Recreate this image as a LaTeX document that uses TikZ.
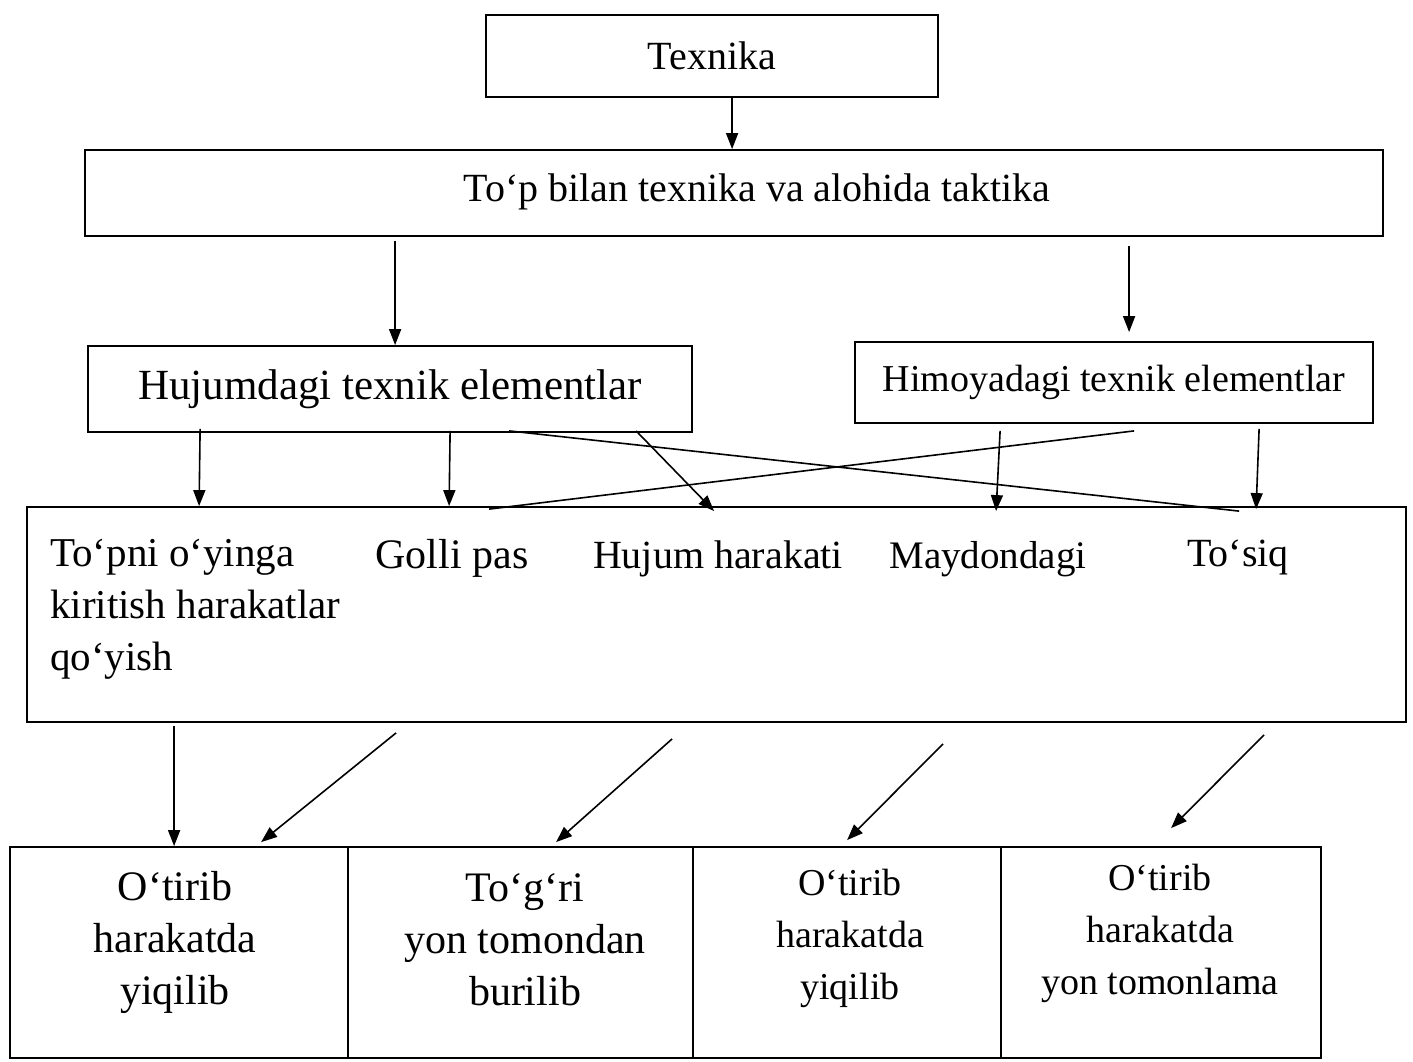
\documentclass[tikz,border=0pt]{standalone}
\usepackage{fontspec}
\setmainfont{Liberation Serif}
\usetikzlibrary{arrows.meta,calc}
\begin{document}
\begin{tikzpicture}[x=1pt,y=-1pt,
  box/.style={draw,line width=1.8pt,inner sep=0pt,align=center},
  conn/.style={line width=1.6pt,-{Triangle[length=16pt,width=12pt]}},
  plain/.style={line width=1.6pt},
  fs/.style={font=\fontsize{#1}{52}\selectfont},
  lbl/.style={inner sep=0pt,align=center}]
\useasboundingbox (0,0) rectangle (1413,1062);
% boxes
\node[box,fs=40,minimum width=452pt,minimum height=82pt] (tex) at (712,56) {Texnika};
\node[box,minimum width=1298pt,minimum height=86pt] (top) at (734,193) {};
\node[lbl,fs=40] (toptxt) at (757,192) {To‘p bilan texnika va alohida taktika};
\node[box,fs=43,minimum width=604pt,minimum height=86pt] (hu) at (390,389) {Hujumdagi texnik elementlar};
\node[box,fs=38,minimum width=518pt,minimum height=81pt] (hi) at (1114,382.5) {Himoyadagi texnik elementlar};
\node[box,minimum width=1379pt,minimum height=215pt] (mid) at (716.5,614.5) {};
% middle texts
\node[lbl,fs=41,anchor=base west,align=left] (t1) at (50,670) {To‘pni o‘yinga\\kiritish harakatlar\\qo‘yish};
\node[lbl,fs=42,anchor=base] (t2) at (452,568) {Golli pas};
\node[lbl,fs=40,anchor=base] (t3) at (718,568) {Hujum harakati};
\node[lbl,fs=39,anchor=base] (t4) at (988,568) {Maydondagi};
\node[lbl,fs=40,anchor=base] (t5) at (1238,566) {To‘siq};
% bottom boxes
\node[box,minimum width=338pt,minimum height=211pt] (b1) at (179,952.5) {};
\node[box,minimum width=345pt,minimum height=211pt] (b2) at (520.5,952.5) {};
\node[box,minimum width=308pt,minimum height=211pt] (b3) at (847,952.5) {};
\node[box,minimum width=320pt,minimum height=211pt] (b4) at (1161,952.5) {};
\node[lbl,fs=42] (l1) at (175,942) {O‘tirib\\harakatda\\yiqilib};
\node[lbl,fs=42] (l2) at (525,940) {To‘g‘ri\\yon tomondan\\burilib};
\node[lbl,fs=38] (l3) at (850,938) {O‘tirib\\harakatda\\yiqilib};
\node[lbl,fs=38] (l4) at (1160,933) {O‘tirib\\harakatda\\yon tomonlama};
% top connectors
\draw[conn] ($(tex.south west)+(247,0)$) -- ($(top.north west)+(648,0)$);
\draw[conn] ($(top.south west)+(311,4)$) -- ($(hu.north west)+(308,0)$);
\draw[conn] ($(top.south west)+(1045,9)$) -- ($(hi.north west)+(275,-9)$);
% from Hujumdagi
\draw[conn] ($(hu.south west)+(113,-4)$) -- ($(mid.north west)+(173,0)$);
\draw[conn] ($(hu.south west)+(363,-2)$) -- ($(mid.north west)+(423,0)$);
\draw[conn] ($(hu.south west)+(549,-2)$) -- ($(mid.north west)+(688,5)$);
\draw[plain] ($(hu.south west)+(422,-2)$) -- ($(mid.north west)+(1213,5)$);
% from Himoyadagi
\draw[plain] ($(hi.south west)+(280,7)$) -- ($(mid.north west)+(463,3)$);
\draw[conn] ($(hi.south west)+(146,7)$) -- ($(mid.north west)+(970,5)$);
\draw[conn] ($(hi.south west)+(405,5)$) -- ($(mid.north west)+(1230,3)$);
% bottom connectors
\draw[conn] ($(mid.south west)+(148,3)$) -- ($(b1.north west)+(165,0)$);
\draw[conn] ($(mid.south west)+(370,10)$) -- ($(b1.north west)+(252,-4)$);
\draw[conn] ($(mid.south west)+(646,16)$) -- ($(b2.north west)+(209,-4)$);
\draw[conn] ($(mid.south west)+(917,21)$) -- ($(b3.north west)+(155,-6)$);
\draw[conn] ($(mid.south west)+(1238,12)$) -- ($(b4.north west)+(171,-18)$);
\end{tikzpicture}
\end{document}
